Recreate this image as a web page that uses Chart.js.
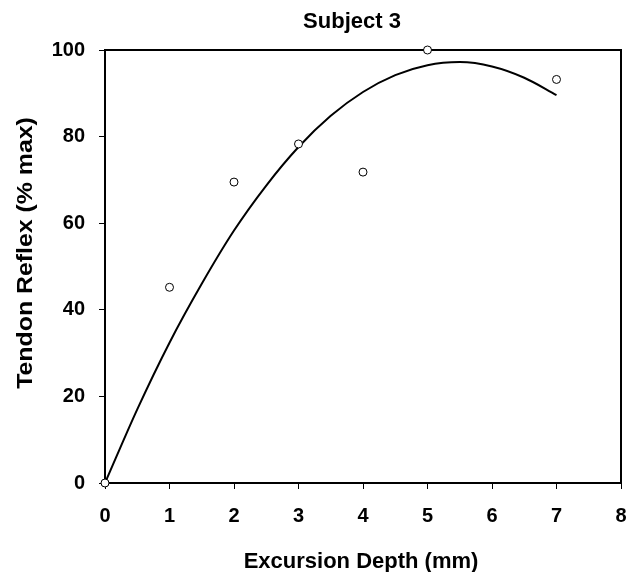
<!DOCTYPE html>
<html>
<head>
<meta charset="utf-8">
<script src="https://cdn.jsdelivr.net/npm/chart.js@4/dist/chart.umd.min.js"></script>
<style>
    html, body { margin: 0; padding: 0; background: #fff; }
    #wrap { width: 636px; height: 572px; }
</style>
</head>
<body>
<div id="wrap"><canvas id="chart" width="636" height="572"></canvas></div>
<script>
// Measured points (open circles)
const depthMm = [0, 1, 2, 3, 4, 5, 7];
const reflexPct = [0, 45.2, 69.5, 78.3, 71.8, 100, 93.2];

// Fitted curve
const curveX = [0, 0.5, 1, 1.5, 2, 2.5, 3, 3.5, 4, 4.5, 5, 5.5, 6, 6.5, 7];
const curveY = [0, 17, 32.4, 46, 58.3, 68.7, 77.6, 84.8, 90.3, 94.2, 96.5, 97.2, 96.2, 93.6, 89.6];

const TITLE = 'Subject 3';
const X_TITLE = 'Excursion Depth (mm)';
const Y_TITLE = 'Tendon Reflex (% max)';
const FONT = '"Liberation Sans", Arial, sans-serif';

// Box round the plot area plus the titles
const framePlugin = {
    id: 'frame',
    beforeDatasetsDraw(chart) {
        const { ctx, chartArea: a } = chart;
        ctx.save();
        ctx.strokeStyle = '#000';
        ctx.lineWidth = 2;
        ctx.strokeRect(a.left, a.top, a.right - a.left, a.bottom - a.top);
        ctx.restore();
    },
    afterDraw(chart) {
        const { ctx } = chart;
        ctx.save();
        ctx.fillStyle = '#000';
        ctx.textAlign = 'center';
        ctx.textBaseline = 'alphabetic';

        ctx.font = 'bold 22px ' + FONT;
        ctx.fillText(TITLE, 352, 28);

        ctx.font = 'bold 22px ' + FONT;
        ctx.fillText(X_TITLE, 361, 568);

        // y title is a bit stretched along its length in the original
        ctx.translate(32, 253);
        ctx.rotate(-Math.PI / 2);
        ctx.scale(1.13, 1);
        ctx.fillText(Y_TITLE, 0, 0);
        ctx.restore();
    }
};

const ctx = document.getElementById('chart').getContext('2d');

new Chart(ctx, {
    type: 'scatter',
    data: {
        datasets: [
            {
                data: depthMm.map((x, i) => ({ x: x, y: reflexPct[i] })),
                pointStyle: 'circle',
                pointRadius: 4,
                pointBorderWidth: 1,
                pointBorderColor: '#000',
                pointBackgroundColor: '#fff',
                clip: false,
                order: 0
            },
            {
                data: curveX.map((x, i) => ({ x: x, y: curveY[i] })),
                showLine: true,
                borderColor: '#000',
                borderWidth: 2,
                pointRadius: 0,
                cubicInterpolationMode: 'monotone',
                fill: false,
                order: 1
            }
        ]
    },
    options: {
        responsive: false,
        animation: false,
        layout: {
            padding: { top: 50, right: 15, left: 0, bottom: 0 }
        },
        plugins: {
            legend: { display: false },
            tooltip: { enabled: false },
            title: { display: false }
        },
        scales: {
            x: {
                type: 'linear',
                min: 0,
                max: 8,
                afterFit(scale) {
                    scale.height = 89;
                    scale.paddingLeft = 0;
                    scale.paddingRight = 0;
                },
                ticks: {
                    stepSize: 1,
                    color: '#000',
                    padding: 15,
                    font: { family: FONT, size: 20, weight: 'bold' }
                },
                grid: {
                    drawOnChartArea: false,
                    drawTicks: true,
                    tickLength: 6,
                    color: '#000',
                    lineWidth: 1
                },
                border: { display: true, color: '#000', width: 2 }
            },
            y: {
                type: 'linear',
                min: 0,
                max: 100,
                afterFit(scale) {
                    scale.width = 105;
                    scale.paddingTop = 0;
                    scale.paddingBottom = 0;
                },
                ticks: {
                    stepSize: 20,
                    color: '#000',
                    padding: 14,
                    font: { family: FONT, size: 20, weight: 'bold' }
                },
                grid: {
                    drawOnChartArea: false,
                    drawTicks: true,
                    tickLength: 6,
                    color: '#000',
                    lineWidth: 1
                },
                border: { display: true, color: '#000', width: 2 }
            }
        }
    },
    plugins: [framePlugin]
});
</script>
</body>
</html>
